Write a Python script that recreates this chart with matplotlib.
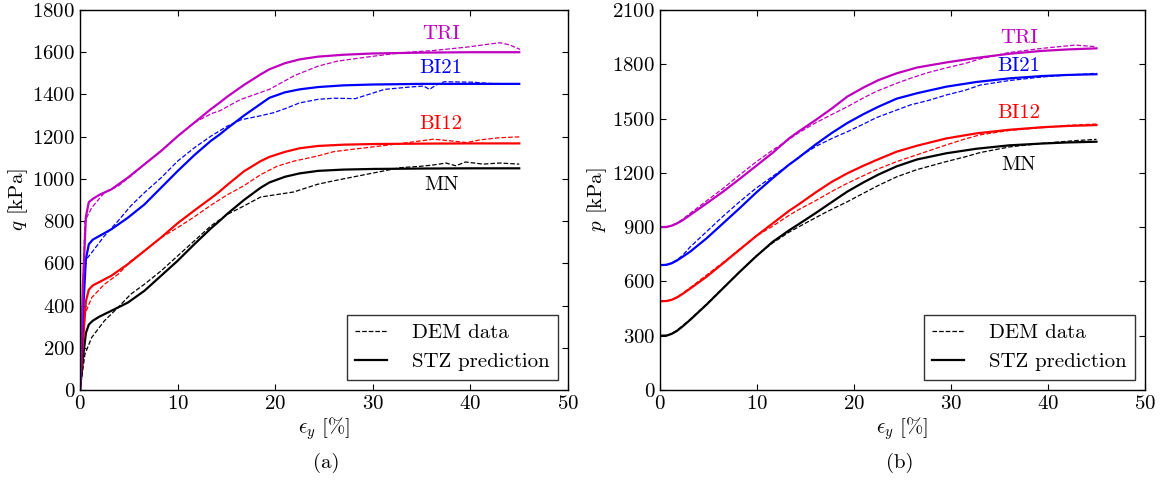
import matplotlib
matplotlib.use("Agg")
import matplotlib.pyplot as plt

# === DATOS ===
# panel (a): q [kPa] vs eps_y [%]
q_stz_eps = {
    "MN":   [0, 0.3, 0.6, 0.9, 1.3, 2.0, 3.2, 4.9, 6.6, 8.3, 10, 11.7, 13.4, 14.3, 15.1, 16.8, 18.5, 19.4, 21, 22.5, 24.4, 27, 30, 35, 40, 45],
    "BI12": [0, 0.3, 0.6, 0.9, 1.3, 2.0, 3.2, 4.9, 6.6, 8.3, 10, 11.7, 13.4, 14.3, 15.1, 16.8, 18.5, 19.4, 21, 22.5, 24.4, 27, 30, 35, 40, 45],
    "BI21": [0, 0.3, 0.6, 0.9, 1.3, 2.0, 3.2, 4.9, 6.6, 8.3, 10, 11.7, 13.4, 14.3, 15.1, 16.8, 18.5, 19.4, 21, 22.5, 24.4, 27, 30, 35, 40, 45],
    "TRI":  [0, 0.3, 0.6, 0.9, 1.3, 2.0, 3.2, 4.9, 6.6, 8.3, 10, 11.7, 13.4, 14.3, 15.1, 16.8, 18.5, 19.4, 21, 22.5, 24.4, 27, 30, 35, 40, 45],
}
q_stz = {
    "MN":   [0, 150, 270, 310, 328, 348, 375, 414, 470, 541, 612, 690, 765, 801, 835, 900, 958, 983, 1010, 1026, 1038, 1044, 1047, 1049, 1050, 1050],
    "BI12": [0, 230, 420, 475, 495, 512, 541, 596, 659, 722, 790, 850, 908, 940, 972, 1036, 1084, 1104, 1128, 1145, 1156, 1162, 1165, 1167, 1168, 1168],
    "BI21": [0, 360, 620, 690, 712, 730, 761, 816, 879, 958, 1037, 1112, 1180, 1210, 1240, 1300, 1355, 1384, 1410, 1424, 1435, 1443, 1447, 1450, 1450, 1450],
    "TRI":  [0, 500, 820, 890, 905, 925, 950, 1006, 1069, 1132, 1202, 1266, 1330, 1361, 1390, 1445, 1495, 1519, 1548, 1566, 1579, 1588, 1594, 1598, 1600, 1600],
}
q_dem_eps = {
    "MN":   [0, 0.5, 1.2, 2.5, 3.9, 5.2, 6.6, 8.3, 10, 11.7, 13.4, 15.1, 16.8, 18.5, 20.2, 21.9, 24.3, 26, 29.4, 32.8, 35, 36.2, 37.5, 38.5, 39.5, 41.3, 43, 45],
    "BI12": [0, 0.5, 1.2, 2.5, 3.9, 5.2, 6.6, 8.3, 10, 11.7, 13.4, 15.1, 16.8, 18.5, 20.2, 21.9, 24.3, 26, 27.9, 29.4, 32.8, 36.2, 38, 39.6, 41, 43, 45],
    "BI21": [0, 0.5, 1.2, 2.5, 3.9, 5.2, 6.6, 8.3, 10, 11.7, 13.4, 15.1, 16.5, 18.4, 19.8, 21.1, 22.5, 24.4, 26, 28.2, 31.2, 33.8, 35.2, 35.8, 36.5, 37.3, 40.2, 42, 45],
    "TRI":  [0, 0.5, 1.2, 2.5, 3.9, 5.2, 6.6, 8.3, 10, 11.7, 13.5, 14.3, 16.4, 19.4, 22, 24.4, 26.4, 29.4, 32.8, 36.2, 39.6, 43, 44, 45.1],
}
q_dem = {
    "MN":   [0, 170, 249, 328, 391, 454, 501, 564, 635, 706, 777, 832, 872, 914, 926, 938, 974, 991, 1022, 1053, 1060, 1066, 1075, 1062, 1080, 1070, 1075, 1070],
    "BI12": [0, 359, 438, 501, 548, 611, 659, 722, 769, 820, 875, 925, 968, 1020, 1060, 1084, 1108, 1129, 1140, 1148, 1167, 1188, 1180, 1172, 1185, 1195, 1199],
    "BI21": [0, 611, 651, 730, 801, 872, 935, 1005, 1084, 1147, 1202, 1250, 1280, 1298, 1313, 1334, 1360, 1377, 1382, 1380, 1424, 1435, 1440, 1424, 1445, 1460, 1458, 1452, 1450],
    "TRI":  [0, 800, 864, 935, 966, 1013, 1069, 1132, 1202, 1266, 1310, 1322, 1375, 1424, 1490, 1534, 1558, 1577, 1597, 1608, 1624, 1645, 1635, 1613],
}

# panel (b): p [kPa] vs eps_y [%]
p_stz_eps = [0, 0.7, 1.2, 1.7, 2.3, 3.1, 4.8, 6.5, 8.2, 9.9, 11.6, 13.3, 14.2, 16, 17.7, 19.3, 21, 22.5, 24.4, 26.5, 29.5, 32.6, 36, 39.4, 42, 45]
p_stz = {
    "MN":   [300, 301, 310, 325, 350, 387, 472, 562, 652, 738, 818, 882, 913, 976, 1038, 1096, 1148, 1190, 1236, 1274, 1308, 1333, 1352, 1362, 1368, 1372],
    "BI12": [490, 492, 498, 510, 530, 560, 626, 700, 775, 850, 920, 990, 1022, 1090, 1150, 1197, 1240, 1275, 1317, 1350, 1390, 1418, 1438, 1452, 1459, 1464],
    "BI21": [690, 692, 700, 714, 735, 764, 838, 921, 1004, 1090, 1170, 1245, 1280, 1355, 1420, 1475, 1525, 1565, 1610, 1640, 1676, 1702, 1722, 1735, 1741, 1745],
    "TRI":  [900, 901, 908, 919, 937, 967, 1031, 1096, 1166, 1238, 1310, 1390, 1425, 1490, 1555, 1621, 1672, 1712, 1750, 1782, 1810, 1835, 1858, 1874, 1882, 1888],
}
p_dem_eps = {
    "MN":   [0, 0.7, 1.2, 1.7, 2.3, 3.1, 4.8, 6.5, 8.2, 9.9, 11.6, 13.3, 15.2, 17.2, 19.3, 21, 22.5, 24.4, 26.5, 29.5, 31.5, 33, 36, 39.4, 42.8, 45],
    "BI12": [0, 0.7, 1.2, 1.7, 2.3, 3.1, 4.8, 6.5, 8.2, 9.9, 11.6, 13.3, 14.2, 16, 17.7, 19.3, 21, 22.5, 24.4, 26.5, 29.5, 31.5, 33, 36, 39.4, 42, 45],
    "BI21": [0, 0.7, 1.2, 1.7, 2.3, 3.1, 4.8, 6.5, 8.2, 9.9, 11.6, 13.3, 14.5, 16.2, 17.8, 19.3, 21, 22.3, 24.4, 25.8, 27.8, 29.5, 31.5, 33, 36, 39.4, 42, 45],
    "TRI":  [0, 0.7, 1.2, 1.7, 2.3, 3.1, 4.8, 6.5, 8.2, 9.9, 11.6, 13.3, 14.2, 16, 17.7, 19.3, 21, 22.3, 24.4, 25.8, 27.5, 29.5, 31.5, 33, 36, 39.4, 42.8, 45],
}
p_dem = {
    "MN":   [300, 302, 312, 328, 353, 390, 474, 564, 653, 740, 812, 872, 928, 985, 1040, 1088, 1130, 1178, 1218, 1262, 1289, 1312, 1343, 1363, 1378, 1385],
    "BI12": [490, 492, 500, 513, 533, 565, 635, 705, 778, 850, 905, 965, 994, 1045, 1097, 1142, 1185, 1222, 1262, 1300, 1354, 1388, 1410, 1434, 1450, 1462, 1470],
    "BI21": [690, 694, 703, 718, 742, 790, 875, 960, 1040, 1115, 1180, 1245, 1295, 1350, 1392, 1427, 1470, 1505, 1547, 1575, 1602, 1630, 1657, 1685, 1710, 1730, 1740, 1750],
    "TRI":  [900, 902, 910, 922, 942, 976, 1045, 1114, 1188, 1260, 1325, 1385, 1418, 1475, 1522, 1565, 1615, 1650, 1695, 1722, 1752, 1780, 1805, 1830, 1865, 1888, 1906, 1897],
}

casos = ["MN", "BI12", "BI21", "TRI"]
colores = {"MN": "k", "BI12": "r", "BI21": "b", "TRI": (0.75, 0, 0.75)}

# posiciones de las etiquetas (eps, valor)
etiquetas_q = {"TRI": (37, 1685), "BI21": (37, 1525), "BI12": (37, 1260), "MN": (37, 970)}
etiquetas_p = {"TRI": (37, 1945), "BI21": (37, 1790), "BI12": (37, 1530), "MN": (37, 1243)}

# === ESTILO ===
plt.rcParams["font.family"] = "cmr10"
plt.rcParams["mathtext.fontset"] = "cm"
plt.rcParams["axes.formatter.use_mathtext"] = True
plt.rcParams["font.size"] = 15
plt.rcParams["xtick.direction"] = "in"
plt.rcParams["ytick.direction"] = "in"
plt.rcParams["xtick.top"] = True
plt.rcParams["ytick.right"] = True
plt.rcParams["xtick.major.size"] = 4
plt.rcParams["ytick.major.size"] = 4

fig = plt.figure(figsize=(11.7, 4.8), dpi=100)
ax1 = fig.add_axes([0.0684, 0.1875, 0.4171, 0.7917])
ax2 = fig.add_axes([0.5641, 0.1875, 0.4145, 0.7917])


def dibujar(ax, eps_stz, stz, eps_dem, dem, etiquetas):
    for c in casos:
        xs = eps_stz[c] if isinstance(eps_stz, dict) else eps_stz
        xd = eps_dem[c] if isinstance(eps_dem, dict) else eps_dem
        ax.plot(xd, dem[c], "--", color=colores[c], lw=0.9,
                label="DEM data" if c == "MN" else None)
        ax.plot(xs, stz[c], "-", color=colores[c], lw=1.6,
                label="STZ prediction" if c == "MN" else None)
        ex, ey = etiquetas[c]
        ax.text(ex, ey, c, color=colores[c], ha="center", va="center", fontsize=15)
    ax.set_xlim(0, 50)
    ax.set_xticks([0, 10, 20, 30, 40, 50])
    ax.set_xlabel(r"$\epsilon_y$ [%]", labelpad=2)
    for s in ax.spines.values():
        s.set_linewidth(1.0)
    leg = ax.legend(loc="lower right", fontsize=15, frameon=True, fancybox=False,
                    handlelength=1.5, borderaxespad=0.5, labelspacing=0.5,
                    handletextpad=1.2)
    leg.get_frame().set_edgecolor("k")
    leg.get_frame().set_linewidth(1.0)


dibujar(ax1, q_stz_eps, q_stz, q_dem_eps, q_dem, etiquetas_q)
ax1.set_ylim(0, 1800)
ax1.set_yticks(range(0, 1801, 200))
ax1.set_ylabel(r"$q$ [kPa]", labelpad=2)

dibujar(ax2, p_stz_eps, p_stz, p_dem_eps, p_dem, etiquetas_p)
ax2.set_ylim(0, 2100)
ax2.set_yticks(range(0, 2101, 300))
ax2.set_ylabel(r"$p$ [kPa]", labelpad=2)

fig.text(0.2786, 0.035, "(a)", ha="center", va="center", fontsize=15)
fig.text(0.7692, 0.035, "(b)", ha="center", va="center", fontsize=15)

fig.savefig("out.png", dpi=100)
